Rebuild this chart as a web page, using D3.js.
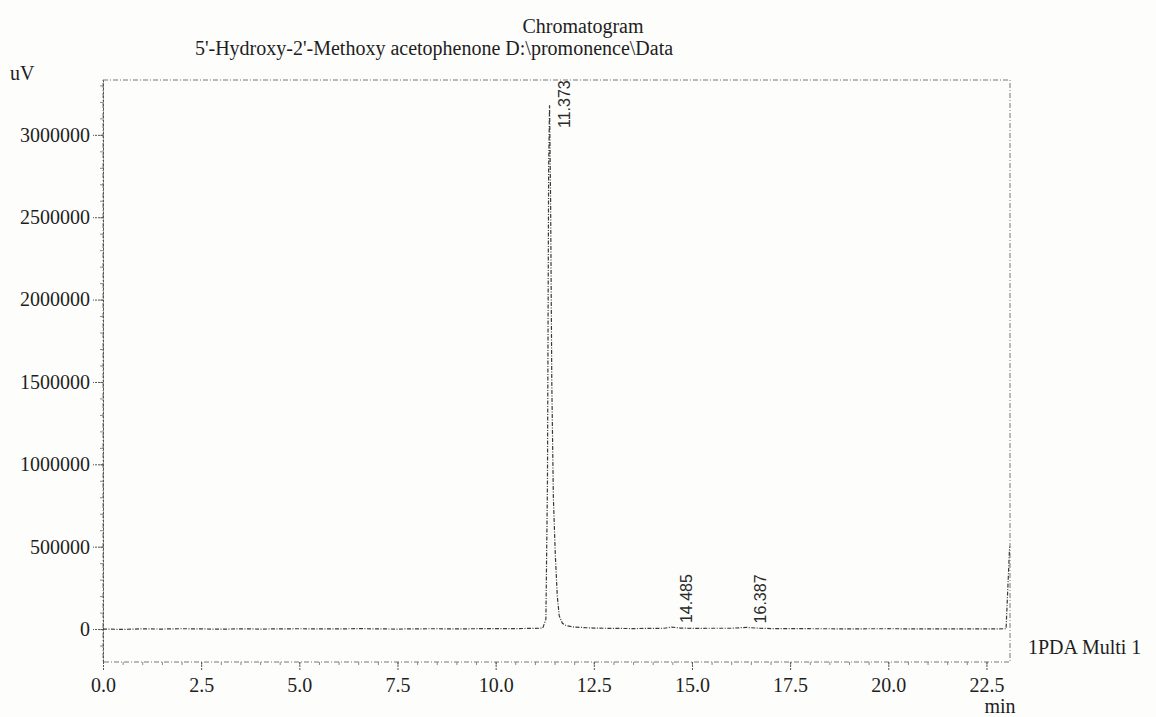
<!DOCTYPE html>
<html>
<head>
<meta charset="utf-8">
<script src="https://cdn.jsdelivr.net/npm/d3@7"></script>
<style>
  body { margin: 0; background: #fdfdfb; }
  svg { display: block; font-family: "Liberation Serif", "Times New Roman", serif; }
</style>
</head>
<body>
<div id="graph-container"></div>
<script>
// retention time (min) and detector signal (uV)
const times = [0, 0.5, 1, 1.5, 2, 2.5, 3, 3.5, 4, 4.5, 5, 5.5, 6, 6.5, 7, 7.5, 8, 8.5, 9, 9.5,
  10, 10.5, 11, 11.2, 11.28, 11.32, 11.35, 11.373, 11.4, 11.43, 11.47, 11.52, 11.57, 11.62, 11.7,
  11.8, 12, 12.5, 13, 13.5, 14, 14.3, 14.485, 14.7, 15, 15.5, 16, 16.387, 16.7, 17, 18, 19, 20,
  21, 21.5, 22, 22.5, 23, 23.09];
const signal = [0, -2000, 1000, 0, 2000, 1000, -1000, 1500, 0, 1000, 2000, 500, 1000, 2500, 1000, 0,
  1500, 2000, 1000, 2000, 3000, 3000, 4000, 6000, 60000, 900000, 2800000, 3180000, 2600000, 1500000,
  800000, 450000, 200000, 80000, 35000, 20000, 12000, 6000, 4000, 3000, 4000, 5000, 12000, 6000,
  4000, 5000, 5000, 10000, 5000, 3000, 2000, 1500, 2000, 1000, 1500, 1000, 1000, 2000, 500000];

const peakTimes = [11.373, 14.485, 16.387];
const peakHeights = [3180000, 12000, 10000];
const peakLabels = ["11.373", "14.485", "16.387"];

const xTicks = [0, 2.5, 5, 7.5, 10, 12.5, 15, 17.5, 20, 22.5];
const xTickLabels = ["0.0", "2.5", "5.0", "7.5", "10.0", "12.5", "15.0", "17.5", "20.0", "22.5"];
const yTicks = [0, 500000, 1000000, 1500000, 2000000, 2500000, 3000000];

const svgWidth = 1156;
const svgHeight = 717;
const margin = { top: 80, right: 146, bottom: 55, left: 103 };
const width = svgWidth - margin.left - margin.right;
const height = svgHeight - margin.top - margin.bottom;

const svg = d3
  .select("#graph-container")
  .append("svg")
  .attr("width", svgWidth)
  .attr("height", svgHeight);

const xScale = d3.scaleLinear().domain([0, 23.1]).range([margin.left, margin.left + width]);
const yScale = d3.scaleLinear().domain([-200000, 3333000]).range([margin.top + height, margin.top]);

const ink = "#3a3a3a";

// frame
svg
  .append("rect")
  .attr("x", margin.left)
  .attr("y", margin.top)
  .attr("width", width)
  .attr("height", height)
  .attr("fill", "none")
  .attr("stroke", "#777")
  .attr("stroke-width", 1)
  .attr("stroke-dasharray", "5,2,1,2");

// minor ticks on y
svg
  .append("g")
  .attr("transform", `translate(${margin.left},0)`)
  .call(d3.axisLeft(yScale).tickValues(d3.range(-100000, 3300001, 100000)).tickSize(3).tickFormat(""))
  .call((g) => g.select(".domain").remove())
  .selectAll("line")
  .attr("stroke", "#888");

// y axis
const yAxis = svg
  .append("g")
  .attr("transform", `translate(${margin.left},0)`)
  .call(d3.axisLeft(yScale).tickValues(yTicks).tickSize(10).tickSizeOuter(0).tickPadding(3).tickFormat(d3.format("d")));
yAxis.select(".domain").attr("stroke", "#555").attr("stroke-dasharray", "3,1");
yAxis.selectAll(".tick line").attr("stroke", "#555").attr("stroke-dasharray", "2,1");
yAxis.selectAll("text").attr("font-family", "Liberation Serif").attr("font-size", 20).attr("fill", "#1e1e1e");

// minor ticks on x
svg
  .append("g")
  .attr("transform", `translate(0,${margin.top + height})`)
  .call(d3.axisBottom(xScale).tickValues(d3.range(0.5, 23, 0.5)).tickSize(3).tickFormat(""))
  .call((g) => g.select(".domain").remove())
  .selectAll("line")
  .attr("stroke", "#888");

// x axis
const xAxis = svg
  .append("g")
  .attr("transform", `translate(0,${margin.top + height})`)
  .call(
    d3.axisBottom(xScale)
      .tickValues(xTicks)
      .tickSize(8)
      .tickSizeOuter(0)
      .tickPadding(8)
      .tickFormat((d, i) => xTickLabels[i])
  );
xAxis.select(".domain").remove();
xAxis.selectAll(".tick line").attr("stroke", "#555").attr("stroke-dasharray", "2,1");
xAxis.selectAll("text").attr("font-family", "Liberation Serif").attr("font-size", 20).attr("fill", "#1e1e1e");

// chromatogram trace
const trace = times.map((t, i) => ({ t, v: signal[i] }));
const line = d3
  .line()
  .x((d) => xScale(d.t))
  .y((d) => yScale(d.v));

svg
  .append("path")
  .datum(trace)
  .attr("d", line)
  .attr("fill", "none")
  .attr("stroke", ink)
  .attr("stroke-width", 1.2)
  .attr("stroke-dasharray", "4,1.5,1,1.5");

// peak labels (rotated)
svg
  .selectAll("text.peak")
  .data(peakTimes)
  .enter()
  .append("text")
  .attr("class", "peak")
  .attr("transform", (d, i) => {
    const px = xScale(d) + 20;
    const py = Math.max(yScale(peakHeights[i]) - 4, margin.top + 48);
    return `translate(${px},${py}) rotate(-90)`;
  })
  .attr("font-family", "Liberation Sans, Arial, sans-serif")
  .attr("font-size", 16)
  .attr("fill", "#2a2a2a")
  .text((d, i) => peakLabels[i]);

// titles and unit labels
svg
  .append("text")
  .attr("x", 583)
  .attr("y", 33)
  .attr("text-anchor", "middle")
  .attr("font-size", 20)
  .attr("fill", "#1e1e1e")
  .text("Chromatogram");

svg
  .append("text")
  .attr("x", 434)
  .attr("y", 55)
  .attr("text-anchor", "middle")
  .attr("font-size", 20)
  .attr("fill", "#1e1e1e")
  .text("5'-Hydroxy-2'-Methoxy acetophenone D:\\promonence\\Data");

svg
  .append("text")
  .attr("x", 10)
  .attr("y", 80)
  .attr("font-size", 20)
  .attr("fill", "#1e1e1e")
  .text("uV");

svg
  .append("text")
  .attr("x", 1000)
  .attr("y", 713)
  .attr("text-anchor", "middle")
  .attr("font-size", 20)
  .attr("fill", "#1e1e1e")
  .text("min");

svg
  .append("text")
  .attr("x", 1028)
  .attr("y", 654)
  .attr("font-size", 20)
  .attr("fill", "#1e1e1e")
  .text("1PDA Multi 1");
</script>
</body>
</html>
